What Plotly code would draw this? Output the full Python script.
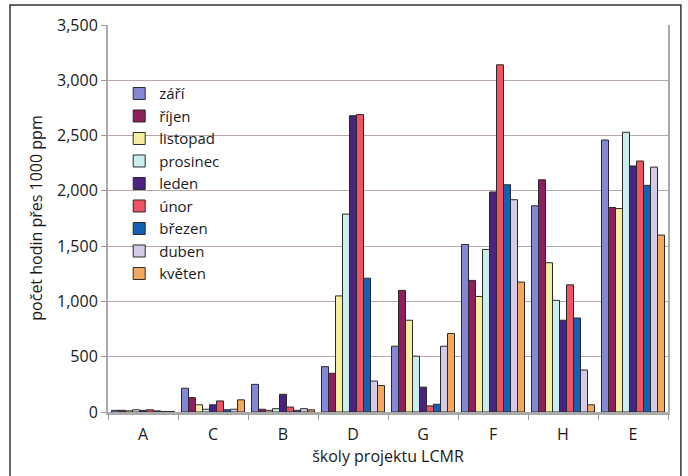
import plotly.graph_objects as go

schools = ["A", "C", "B", "D", "G", "F", "H", "E"]
months = ["září", "říjen", "listopad", "prosinec", "leden", "únor", "březen", "duben", "květen"]
colors = ["#8487d6", "#8e1f5c", "#f4eea0", "#c9eeec", "#4a2281", "#ef5260", "#1361b3", "#d3cbe9", "#f2a95e"]

# values per month across schools A, C, B, D, G, F, H, E
zari     = [15, 215, 250, 410, 595, 1515, 1865, 2460]
rijen    = [15, 130, 25, 350, 1100, 1190, 2100, 1850]
listopad = [10, 65, 15, 1050, 830, 1045, 1350, 1840]
prosinec = [20, 25, 30, 1790, 505, 1470, 1010, 2530]
leden    = [15, 65, 160, 2680, 225, 1990, 830, 2225]
unor     = [20, 100, 45, 2690, 55, 3140, 1150, 2270]
brezen   = [10, 20, 15, 1210, 70, 2055, 850, 2050]
duben    = [5, 25, 30, 280, 595, 1920, 380, 2215]
kveten   = [5, 110, 20, 240, 710, 1175, 65, 1600]

series = [zari, rijen, listopad, prosinec, leden, unor, brezen, duben, kveten]

fig = go.Figure()
for name, vals, col in zip(months, series, colors):
    fig.add_trace(go.Bar(
        x=schools, y=vals, name=name,
        marker=dict(color=col, line=dict(color="#2a2a2a", width=1)),
    ))

FONT = "Open Sans"
fig.update_layout(
    width=688, height=476,
    margin=dict(l=108, r=20, t=25, b=64),
    paper_bgcolor="white", plot_bgcolor="white",
    barmode="group", bargap=0.1, bargroupgap=0,
    font=dict(family=FONT, color="#1a1a1a"),
    showlegend=True,
    legend=dict(x=0.02, y=0.865, xanchor="left", yanchor="top",
                font=dict(size=15, family=FONT, color="#1a1a1a"),
                bgcolor="rgba(0,0,0,0)", itemwidth=30, tracegroupgap=0),
    xaxis=dict(
        title=dict(text="školy projektu LCMR", font=dict(size=16), standoff=2),
        tickfont=dict(size=16), ticklabelstandoff=6,
        tickson="boundaries", ticks="outside", ticklen=5, tickcolor="#999",
        showline=True, linecolor="#aaa", linewidth=3,
    ),
    yaxis=dict(
        range=[0, 3500], dtick=500, tickformat=",",
        tickfont=dict(size=16),
        ticks="outside", ticklen=5, tickcolor="#999",
        showgrid=True, gridcolor="#b9a6aa", gridwidth=1,
        showline=True, linecolor="#aaa", linewidth=2, mirror=True,
        zeroline=False,
    ),
    annotations=[dict(text="počet hodin přes 1000 ppm", xref="paper", yref="paper",
                      x=-0.130, y=0.5, textangle=-90, showarrow=False,
                      xanchor="center", yanchor="middle",
                      font=dict(size=16, family=FONT, color="#1a1a1a"))],
    shapes=[dict(type="rect", xref="paper", yref="paper",
                 x0=-0.175, x1=1.023, y0=-0.2, y1=1.052,
                 line=dict(color="#333", width=1.5), fillcolor="rgba(0,0,0,0)")],
)

fig.write_html("out.html")
